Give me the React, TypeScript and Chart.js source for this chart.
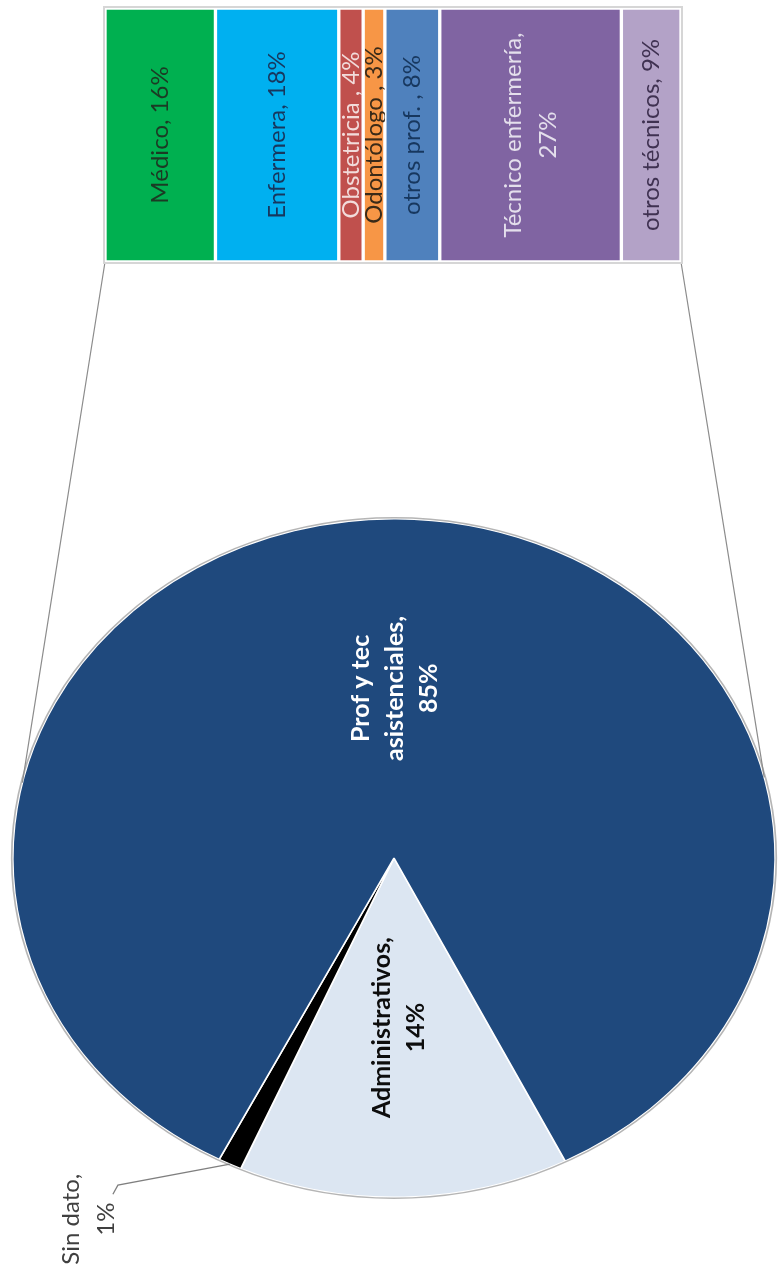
import React, { useEffect, useRef } from 'react';
import { Chart, registerables } from 'chart.js';

Chart.register(...registerables);

const W = 778;
const H = 1279;

// ---- Pie (main breakdown) ----
const pieNames = [['Administrativos'], ['Sin dato'], ['Prof y tec', 'asistenciales']];
const pieValues = [14, 1, 85];
const pieColors = ['#DCE6F2', '#000000', '#1F497D'];
const pieTextColors = ['#0d0d0d', '#404040', '#ffffff'];

// ---- Bar (breakdown of "Prof y tec asistenciales") ----
const barNames = ['Médico', 'Enfermera', 'Obstetricia ', 'Odontólogo ', 'otros prof. ', 'Técnico enfermería', 'otros técnicos'];
const barValues = [16.3, 18.2, 3.6, 3.2, 8.1, 26.8, 8.8];
const barColors = ['#00B050', '#00B0F0', '#C0504D', '#F79646', '#4F81BD', '#8064A2', '#B3A2C7'];
const barTextColors = ['#1b3a24', '#17375E', '#F2DCDB', '#3a2a18', '#17375E', '#E4DFEC', '#3F3151'];
const barWrap = [false, false, false, false, false, true, false];

const FONT = 'Lato, "Open Sans", sans-serif';
const SX = 382 / 340; // horizontal stretch of the pie (ellipse)

function drawRotated(ctx: CanvasRenderingContext2D, lines: string[], cx: number, cy: number, font: string, color: string, lh: number) {
  ctx.save();
  ctx.translate(cx, cy);
  ctx.rotate(-Math.PI / 2);
  ctx.font = font;
  ctx.fillStyle = color;
  ctx.textAlign = 'center';
  ctx.textBaseline = 'middle';
  lines.forEach((l, i) => ctx.fillText(l, 0, (i - (lines.length - 1) / 2) * lh));
  ctx.restore();
}

function pieLines(i: number): string[] {
  const names = pieNames[i].slice();
  names[names.length - 1] = names[names.length - 1] + ',';
  return [...names, `${pieValues[i]}%`];
}

const pieDeco = {
  id: 'pieDeco',
  beforeDatasetsDraw(chart: any) {
    const arc = chart.getDatasetMeta(0).data[0];
    const ctx = chart.ctx;
    ctx.save();
    ctx.translate(arc.x, arc.y);
    ctx.scale(SX, 1);
    ctx.translate(-arc.x, -arc.y);
  },
  afterDatasetsDraw(chart: any) {
    const ctx = chart.ctx;
    const meta = chart.getDatasetMeta(0);
    const a0 = meta.data[0];
    const cx = a0.x, cy = a0.y, r = a0.outerRadius;
    ctx.beginPath();
    ctx.arc(cx, cy, r + 1, 0, Math.PI * 2);
    ctx.strokeStyle = 'rgba(150,150,150,0.7)';
    ctx.lineWidth = 1.5;
    ctx.stroke();
    ctx.restore();

    // inside labels (Administrativos, Prof y tec)
    [0, 2].forEach((i) => {
      const a = meta.data[i];
      const mid = (a.startAngle + a.endAngle) / 2;
      const x = cx + Math.cos(mid) * r * 0.5 * SX;
      const y = cy + Math.sin(mid) * r * 0.5;
      drawRotated(ctx, pieLines(i), x, y, `bold 25px ${FONT}`, pieTextColors[i], 34);
    });

    // outside label with leader (Sin dato)
    const s = meta.data[1];
    const mid = (s.startAngle + s.endAngle) / 2;
    const px = cx + Math.cos(mid) * r * SX;
    const py = cy + Math.sin(mid) * r;
    ctx.save();
    ctx.beginPath();
    ctx.moveTo(px, py);
    ctx.lineTo(px - 112, py + 21);
    ctx.lineTo(px - 117, py + 30);
    ctx.strokeStyle = '#7f7f7f';
    ctx.lineWidth = 1.3;
    ctx.stroke();
    ctx.restore();
    drawRotated(ctx, pieLines(1), px - 141, py + 55, `24px ${FONT}`, pieTextColors[1], 35);
  },
};

function makeBarDeco(pie: Chart) {
  return {
    id: 'barDeco',
    beforeDatasetsDraw(chart: any) {
      const ctx = chart.ctx;
      const ca = chart.chartArea;
      const arc: any = pie.getDatasetMeta(0).data[0];
      const cx = arc.x, cy = arc.y, r = arc.outerRadius;
      const rx = r * SX;
      const leftAng = Math.PI + 0.224;
      const rightAng = -0.24;
      ctx.save();
      ctx.strokeStyle = '#8c8c8c';
      ctx.lineWidth = 1.2;
      ctx.beginPath();
      ctx.moveTo(ca.left, ca.bottom);
      ctx.lineTo(cx + Math.cos(leftAng) * rx, cy + Math.sin(leftAng) * r);
      ctx.moveTo(ca.right, ca.bottom);
      ctx.lineTo(cx + Math.cos(rightAng) * rx, cy + Math.sin(rightAng) * r);
      ctx.stroke();
      ctx.strokeStyle = '#d6d6d6';
      ctx.lineWidth = 2;
      ctx.strokeRect(ca.left - 1, ca.top - 1, ca.right - ca.left + 2, ca.bottom - ca.top + 2);
      ctx.restore();
    },
    afterDatasetsDraw(chart: any) {
      const ctx = chart.ctx;
      barNames.forEach((name, i) => {
        const el: any = chart.getDatasetMeta(i).data[0];
        const x0 = Math.min(el.x, el.base);
        const x1 = Math.max(el.x, el.base);
        const top = el.y - el.height / 2;
        const pct = Math.round(barValues[i]);
        const lines = barWrap[i] ? [`${name},`, `${pct}%`] : [`${name}, ${pct}%`];
        ctx.save();
        ctx.beginPath();
        ctx.rect(x0, top, x1 - x0, el.height);
        ctx.clip();
        drawRotated(ctx, lines, (x0 + x1) / 2, el.y, `24px ${FONT}`, barTextColors[i], 35);
        ctx.restore();
      });
    },
  };
}

export default function App() {
  const pieRef = useRef<HTMLCanvasElement>(null);
  const barRef = useRef<HTMLCanvasElement>(null);

  useEffect(() => {
    const pie = new Chart(pieRef.current as HTMLCanvasElement, {
      type: 'pie',
      data: {
        labels: pieNames.map((n) => n.join(' ')),
        datasets: [
          {
            data: pieValues,
            backgroundColor: pieColors,
            borderColor: '#ffffff',
            borderWidth: 1.5,
          },
        ],
      },
      options: {
        responsive: false,
        animation: false,
        rotation: 153.3,
        layout: { padding: { left: 54, right: 44, top: 518, bottom: 81 } },
        plugins: { legend: { display: false }, tooltip: { enabled: false } },
      },
      plugins: [pieDeco as any],
    });

    const total = barValues.reduce((a, b) => a + b, 0);
    const bar = new Chart(barRef.current as HTMLCanvasElement, {
      type: 'bar',
      data: {
        labels: [''],
        datasets: barNames.map((n, i) => ({
          label: n,
          data: [barValues[i]],
          backgroundColor: barColors[i],
          borderColor: '#ffffff',
          borderWidth: 2,
          borderSkipped: false,
          barPercentage: 1,
          categoryPercentage: 1,
        })),
      },
      options: {
        indexAxis: 'y',
        responsive: false,
        animation: false,
        layout: { padding: { left: 105, right: 97, top: 8, bottom: 1017 } },
        scales: {
          x: { stacked: true, min: 0, max: total, display: false },
          y: { stacked: true, display: false },
        },
        plugins: { legend: { display: false }, tooltip: { enabled: false } },
      },
      plugins: [makeBarDeco(pie) as any],
    });

    return () => {
      bar.destroy();
      pie.destroy();
    };
  }, []);

  return (
    <div style={{ position: 'absolute', left: 0, top: 0, width: W, height: H, background: '#ffffff', overflow: 'hidden' }}>
      <canvas ref={pieRef} width={W} height={H} style={{ position: 'absolute', left: 0, top: 0 }} />
      <canvas ref={barRef} width={W} height={H} style={{ position: 'absolute', left: 0, top: 0 }} />
    </div>
  );
}
